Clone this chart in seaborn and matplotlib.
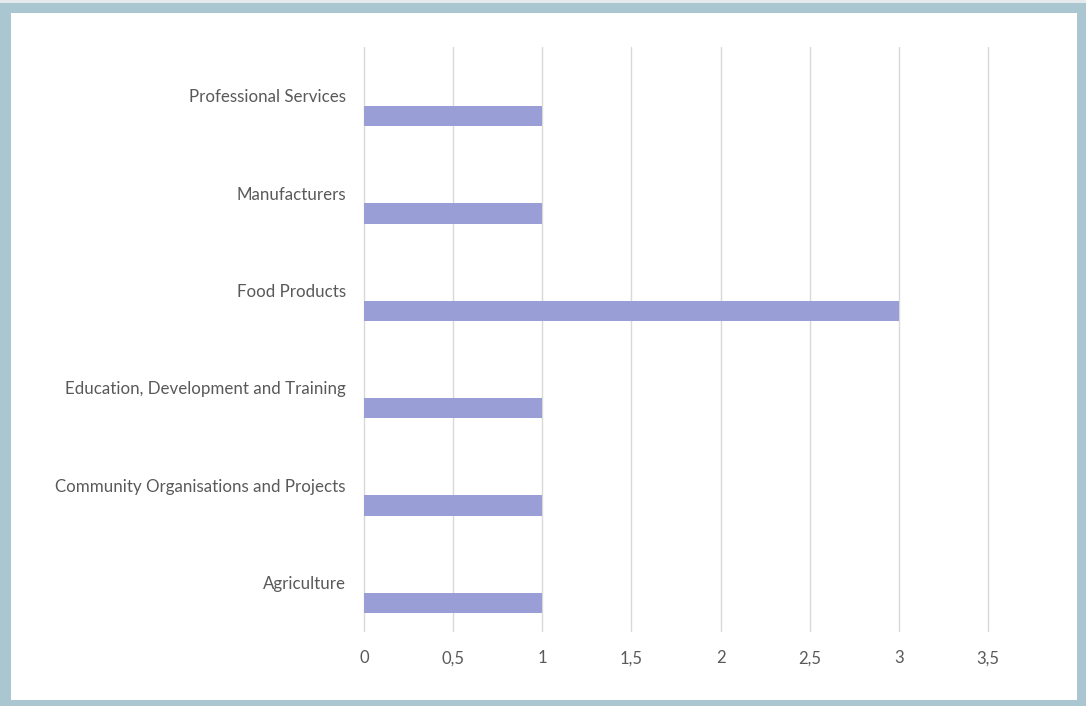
import matplotlib
matplotlib.use("Agg")
import matplotlib.pyplot as plt
from matplotlib.patches import Rectangle
from matplotlib.ticker import FuncFormatter
import pandas as pd
import seaborn as sns

# Sectors, top to bottom
categories = [
    "Professional Services",
    "Manufacturers",
    "Food Products",
    "Education, Development and Training",
    "Community Organisations and Projects",
    "Agriculture",
]
counts = [1, 1, 3, 1, 1, 1]
# Second (empty) series of the clustered layout
empty_series = [0, 0, 0, 0, 0, 0]
x_ticks = [0, 0.5, 1, 1.5, 2, 2.5, 3, 3.5]

df = pd.DataFrame({
    "sector": categories * 2,
    "value": empty_series + counts,
    "series": ["blank"] * len(categories) + ["count"] * len(categories),
})

sns.set_theme(style="white")
plt.rcParams["font.family"] = ["Lato", "DejaVu Sans"]

W, H = 1086, 706
fig = plt.figure(figsize=(W / 100, H / 100), dpi=100)
fig.patch.set_facecolor("#a9c6d1")
# thin light strip along the very top edge
fig.add_artist(Rectangle((0, 1 - 3 / H), 1, 3 / H, transform=fig.transFigure,
                         facecolor="#e6eaec", edgecolor="none", zorder=0))
# white card inside the coloured frame
fig.add_artist(Rectangle((11 / W, 6 / H), (1077 - 11) / W, (700 - 13) / H,
                         transform=fig.transFigure, facecolor="white",
                         edgecolor="none", zorder=0))

ax = fig.add_axes([364 / W, 1 - 631 / H, (988 - 364) / W, (631 - 47) / H])
ax.set_facecolor("none")

sns.barplot(
    data=df, y="sector", x="value", hue="series", order=categories,
    hue_order=["blank", "count"], palette=["#9a9ed6", "#9a9ed6"],
    orient="h", width=0.84, gap=0.5, dodge=True, legend=False,
    saturation=1, edgecolor="none", ax=ax,
)

ax.set_xlim(0, 3.5)
ax.set_ylim(len(categories) - 0.5, -0.5)
ax.set_xticks(x_ticks)
ax.xaxis.set_major_formatter(FuncFormatter(lambda v, _: f"{v:g}".replace(".", ",")))
ax.grid(axis="x", color="#d9d9d9", linewidth=1.0)
for gl in ax.get_xgridlines():
    gl.set_clip_on(False)
ax.set_axisbelow(True)
for s in ax.spines.values():
    s.set_visible(False)
ax.set_xlabel("")
ax.set_ylabel("")
ax.tick_params(axis="x", length=0, pad=14, labelsize=12, labelcolor="#595959")
ax.tick_params(axis="y", length=0, pad=13, labelsize=12.2, labelcolor="#595959")

fig.savefig("out.png", dpi=100, facecolor=fig.get_facecolor())
